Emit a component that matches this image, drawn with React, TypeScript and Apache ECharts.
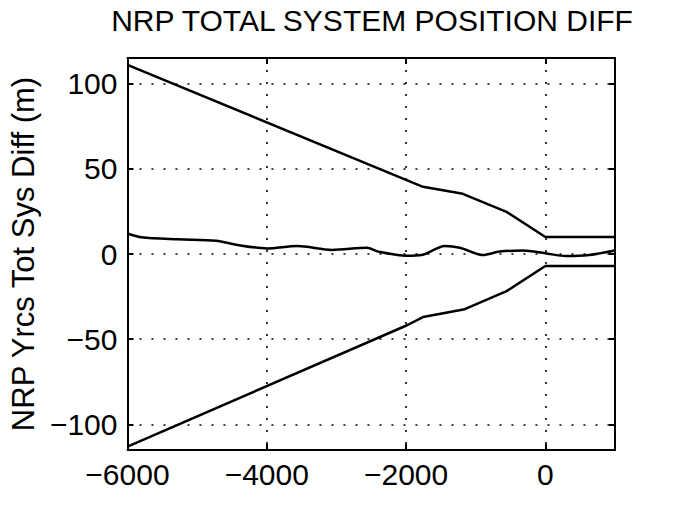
import React, { useEffect, useRef } from "react";
import * as echarts from "echarts";

const titleText = "NRP TOTAL SYSTEM POSITION DIFF";
const yAxisName = "NRP Yrcs Tot Sys Diff (m)";
const xTicks = [-6000, -4000, -2000, 0];
const yTicks = [-100, -50, 0, 50, 100];

const upperX = [-6000, -1757, -1186, -557, 0, 1000];
const upperY = [111, 39.4, 35.3, 24.7, 10, 10];

const lowerX = [-6000, -1986, -1757, -1157, -557, 0, 1000];
const lowerY = [-113, -41.8, -37, -32.4, -21.8, -7, -7];

const midX = [-6000, -5800, -5276, -4729, -4419, -4000, -3562, -3062, -2562, -2395, -1995, -1776, -1443, -1229, -896, -657, -324, 0, 296, 629, 1000];
const midY = [12, 9.8, 8.6, 7.8, 5.3, 3.3, 4.7, 2.4, 3.7, 1.4, -1.0, -0.6, 4.7, 3.7, -0.6, 1.4, 2.0, 0.4, -1.2, -0.6, 2.0];

const pairs = (xs: number[], ys: number[]) => xs.map((x, i) => [x, ys[i]]);

const FONT = "'Liberation Sans', Arial, Helvetica, sans-serif";
const fmt = (v: number) => String(v).replace("-", "\u2212");

export default function App() {
  const ref = useRef<HTMLDivElement>(null);
  useEffect(() => {
    if (!ref.current) return;
    const chart = echarts.init(ref.current, undefined, { renderer: "svg" });
    const dotted = { color: "#000", width: 1.6, type: [2, 10] as any };
    const line = { color: "#000", width: 2 };
    const xBase = {
      type: "value" as const,
      min: -6000,
      max: 1000,
      axisLine: { show: true, onZero: false, lineStyle: line },
      axisTick: { show: true, inside: true, length: 6, customValues: xTicks, lineStyle: line },
    };
    const yBase = {
      type: "value" as const,
      min: -115,
      max: 115,
      axisLine: { show: true, onZero: false, lineStyle: line },
      axisTick: { show: true, inside: true, length: 6, customValues: yTicks, lineStyle: line },
    };
    const seriesStyle = (data: number[][], smooth: number | boolean) => ({
      type: "line" as const,
      data,
      showSymbol: false,
      smooth,
      lineStyle: { color: "#000", width: 2.5 },
      silent: true,
    });
    chart.setOption({
      animation: false,
      backgroundColor: "#fff",
      grid: { left: 125, right: 58, top: 58, bottom: 57 },
      graphic: [
        {
          type: "text",
          x: 372,
          y: 5,
          style: {
            text: titleText,
            fill: "#000",
            font: `30px ${FONT}`,
            textAlign: "center",
            textVerticalAlign: "top",
          },
        },
      ],
      xAxis: [
        {
          ...xBase,
          position: "bottom",
          axisLabel: {
            show: true,
            customValues: xTicks,
            color: "#000",
            fontSize: 30,
            fontFamily: FONT,
            margin: 9,
            formatter: fmt,
          },
          splitLine: { show: true, lineStyle: dotted },
        },
        {
          ...xBase,
          position: "top",
          axisLabel: { show: false },
          splitLine: { show: false },
        },
      ],
      yAxis: [
        {
          ...yBase,
          position: "left",
          name: yAxisName,
          nameLocation: "middle",
          nameGap: 80,
          nameTextStyle: { color: "#000", fontSize: 31, fontFamily: FONT },
          axisLabel: {
            show: true,
            customValues: yTicks,
            color: "#000",
            fontSize: 30,
            fontFamily: FONT,
            margin: 10,
            formatter: fmt,
          },
          splitLine: { show: true, lineStyle: dotted },
        },
        {
          ...yBase,
          position: "right",
          axisLabel: { show: false },
          splitLine: { show: false },
        },
      ],
      series: [
        seriesStyle(pairs(upperX, upperY), false),
        seriesStyle(pairs(midX, midY), 0.3),
        seriesStyle(pairs(lowerX, lowerY), false),
      ],
    });
    return () => chart.dispose();
  }, []);
  return (
    <div
      ref={ref}
      style={{ position: "fixed", left: 0, top: 0, width: 673, height: 507, background: "#fff" }}
    />
  );
}
